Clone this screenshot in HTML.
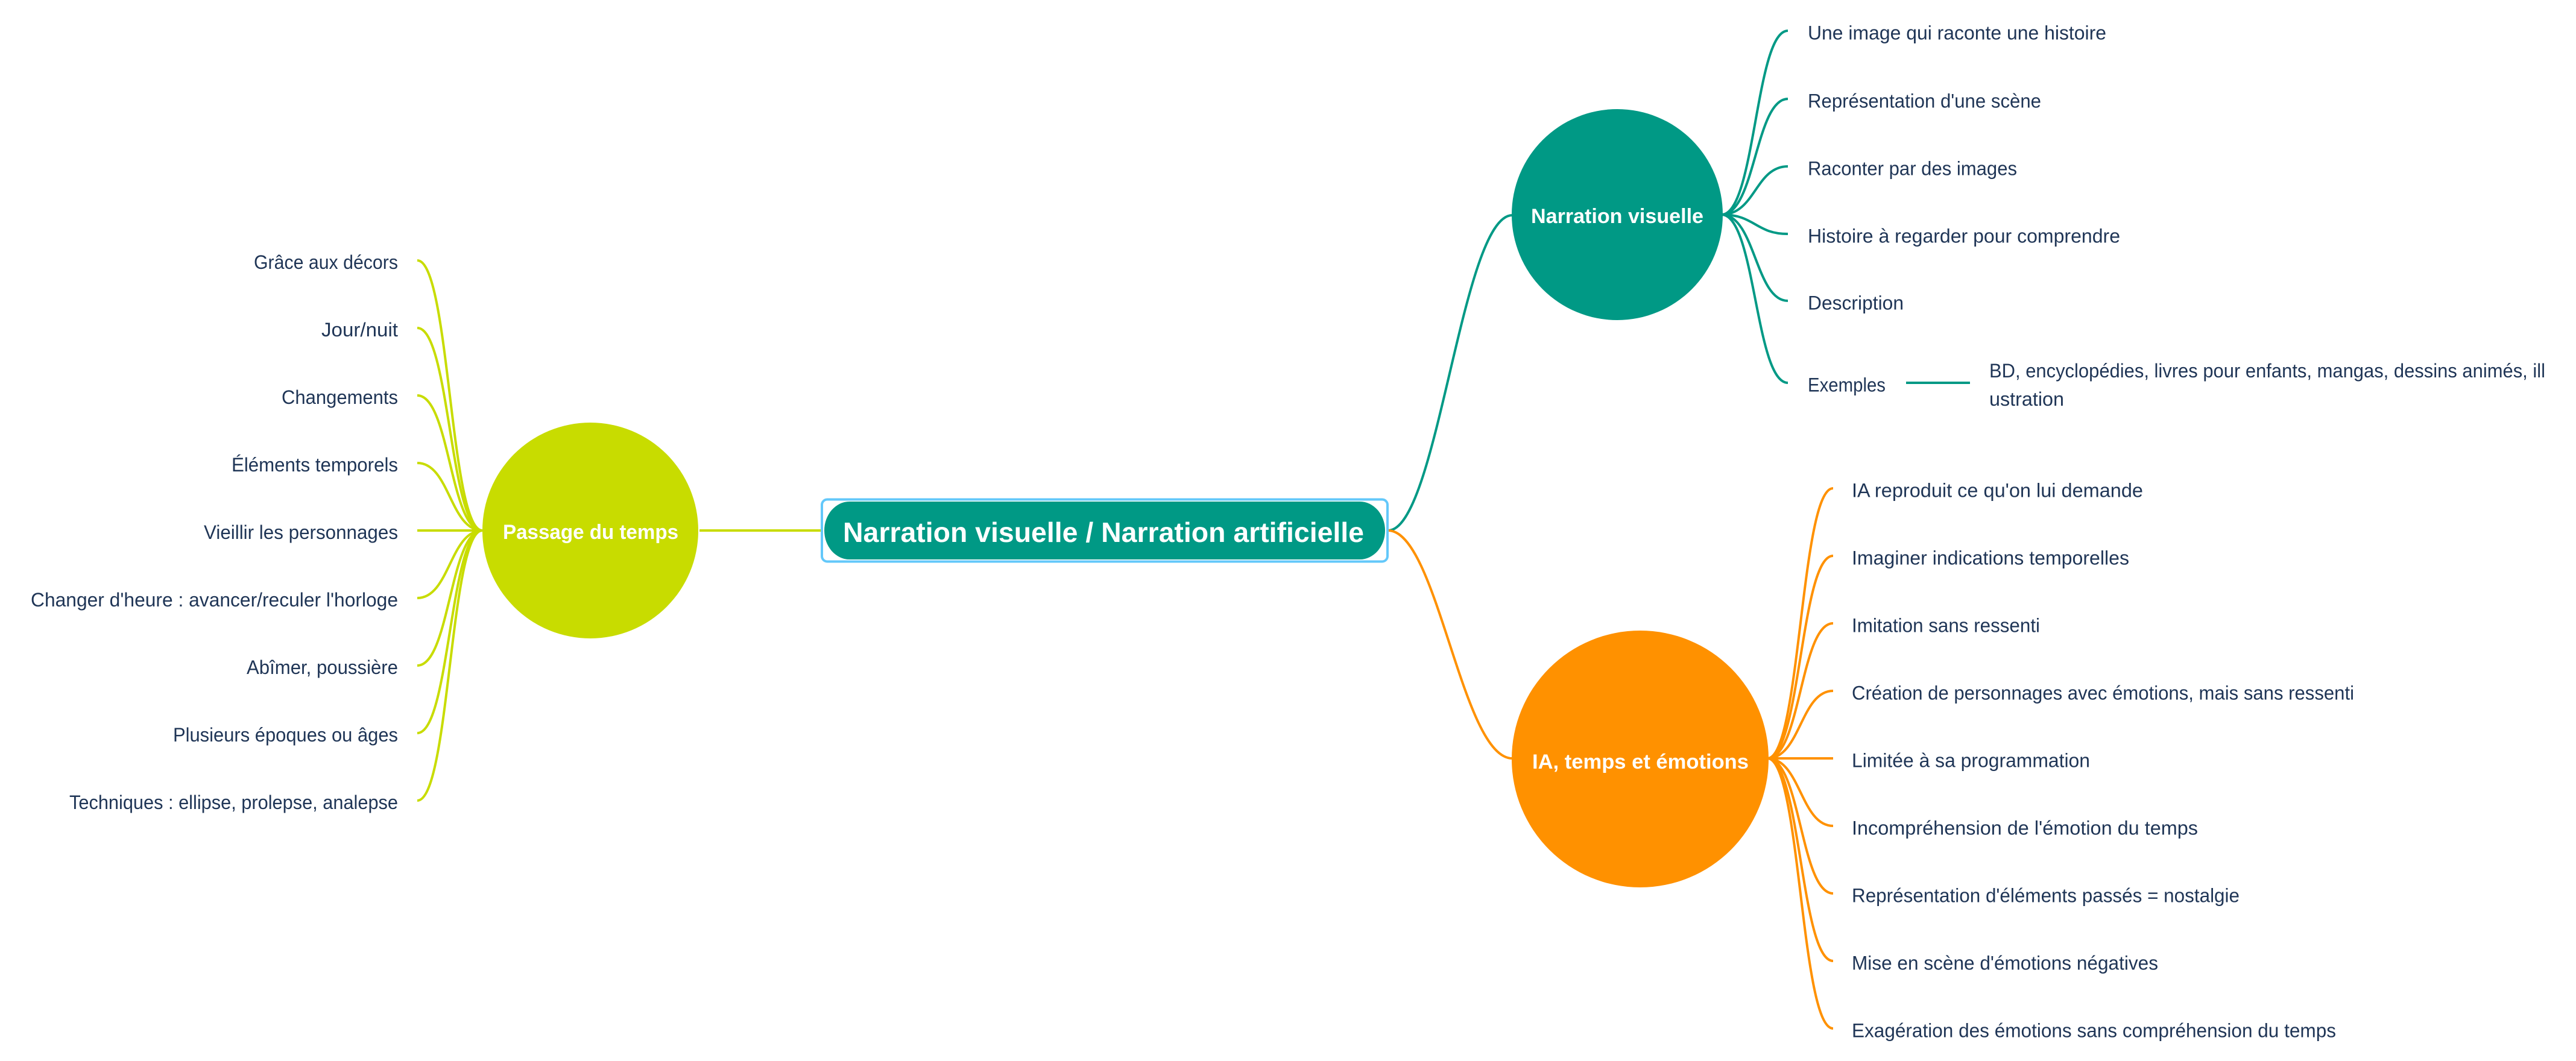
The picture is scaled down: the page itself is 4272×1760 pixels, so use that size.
<!DOCTYPE html>
<html>
<head>
<meta charset="utf-8">
<style>
  html, body { margin: 0; padding: 0; background: #ffffff; }
  body { width: 4272px; height: 1760px; overflow: hidden; }
  svg { display: block; }
  .lbl { font-family: "Liberation Sans", "DejaVu Sans", sans-serif; font-size: 32px; fill: #1f3556; }
  .ttl { font-family: "Liberation Sans", "DejaVu Sans", sans-serif; font-weight: bold; fill: #ffffff; }
</style>
</head>
<body>
<svg xmlns="http://www.w3.org/2000/svg" width="4272" height="1760" viewBox="0 0 4272 1760">
  <rect x="0" y="0" width="4272" height="1760" fill="#ffffff"/>

  <!-- ========== Left branch (lime) ========== -->
  <g fill="none" stroke="#c8dc00" stroke-width="4" stroke-linecap="butt">
    <line x1="1160" y1="880" x2="1363" y2="880"/>
    <path d="M 800 880 C 746 880, 746 432, 692 432"/>
    <path d="M 800 880 C 746 880, 746 544, 692 544"/>
    <path d="M 800 880 C 746 880, 746 656, 692 656"/>
    <path d="M 800 880 C 746 880, 746 768, 692 768"/>
    <line x1="692" y1="880" x2="800" y2="880"/>
    <path d="M 800 880 C 746 880, 746 992, 692 992"/>
    <path d="M 800 880 C 746 880, 746 1104, 692 1104"/>
    <path d="M 800 880 C 746 880, 746 1216, 692 1216"/>
    <path d="M 800 880 C 746 880, 746 1328, 692 1328"/>
  </g>

  <!-- ========== Main connectors to right ========== -->
  <path d="M 2302 880 C 2384 880, 2424 357, 2508 357" fill="none" stroke="#009985" stroke-width="4"/>
  <path d="M 2302 880 C 2384 880, 2424 1258, 2508 1258" fill="none" stroke="#ff9100" stroke-width="4"/>

  <!-- ========== Narration visuelle branches (teal) ========== -->
  <g fill="none" stroke="#009985" stroke-width="4">
    <path d="M 2855 356 C 2911 356, 2911 51, 2965 51"/>
    <path d="M 2855 356 C 2911 356, 2911 164, 2965 164"/>
    <path d="M 2855 356 C 2911 356, 2911 276, 2965 276"/>
    <path d="M 2855 356 C 2911 356, 2911 388, 2965 388"/>
    <path d="M 2855 356 C 2911 356, 2911 499, 2965 499"/>
    <path d="M 2855 356 C 2911 356, 2911 635, 2965 635"/>
    <line x1="3161" y1="635" x2="3267" y2="635"/>
  </g>

  <!-- ========== IA branches (orange) ========== -->
  <g fill="none" stroke="#ff9100" stroke-width="4">
    <path d="M 2931 1258 C 2986 1258, 2986 810, 3040 810"/>
    <path d="M 2931 1258 C 2986 1258, 2986 922, 3040 922"/>
    <path d="M 2931 1258 C 2986 1258, 2986 1034, 3040 1034"/>
    <path d="M 2931 1258 C 2986 1258, 2986 1146, 3040 1146"/>
    <line x1="2931" y1="1258" x2="3040" y2="1258"/>
    <path d="M 2931 1258 C 2986 1258, 2986 1370, 3040 1370"/>
    <path d="M 2931 1258 C 2986 1258, 2986 1482, 3040 1482"/>
    <path d="M 2931 1258 C 2986 1258, 2986 1594, 3040 1594"/>
    <path d="M 2931 1258 C 2986 1258, 2986 1706, 3040 1706"/>
  </g>

  <!-- ========== Nodes ========== -->
  <!-- Central topic -->
  <rect x="1363" y="828.5" width="938" height="103" rx="9" ry="9" fill="#ffffff" stroke="#63c8fa" stroke-width="4"/>
  <rect x="1367" y="832" width="930" height="96" rx="42" ry="48" fill="#009985"/>
  <text class="ttl" x="1398" y="899" font-size="46" textLength="864" lengthAdjust="spacingAndGlyphs">Narration visuelle / Narration artificielle</text>

  <!-- Passage du temps -->
  <circle cx="979" cy="880" r="179" fill="#c8dc00"/>
  <text class="ttl" x="834" y="894" font-size="34" textLength="291" lengthAdjust="spacingAndGlyphs">Passage du temps</text>

  <!-- Narration visuelle -->
  <circle cx="2682" cy="356" r="175" fill="#009985"/>
  <text class="ttl" x="2539" y="370" font-size="34" textLength="286" lengthAdjust="spacingAndGlyphs">Narration visuelle</text>

  <!-- IA, temps et émotions -->
  <circle cx="2720" cy="1259" r="213" fill="#ff9100"/>
  <text class="ttl" x="2541" y="1275" font-size="34" textLength="359" lengthAdjust="spacingAndGlyphs">IA, temps et émotions</text>

  <!-- ========== Left labels (right aligned at x=660) ========== -->
  <g class="lbl">
    <text x="421" y="446" textLength="239" lengthAdjust="spacingAndGlyphs">Grâce aux décors</text>
    <text x="533" y="558" textLength="127" lengthAdjust="spacingAndGlyphs">Jour/nuit</text>
    <text x="467" y="670" textLength="193" lengthAdjust="spacingAndGlyphs">Changements</text>
    <text x="384" y="782" textLength="276" lengthAdjust="spacingAndGlyphs">Éléments temporels</text>
    <text x="338" y="894" textLength="322" lengthAdjust="spacingAndGlyphs">Vieillir les personnages</text>
    <text x="51" y="1006" textLength="609" lengthAdjust="spacingAndGlyphs">Changer d'heure : avancer/reculer l'horloge</text>
    <text x="409" y="1118" textLength="251" lengthAdjust="spacingAndGlyphs">Abîmer, poussière</text>
    <text x="287" y="1230" textLength="373" lengthAdjust="spacingAndGlyphs">Plusieurs époques ou âges</text>
    <text x="115" y="1342" textLength="545" lengthAdjust="spacingAndGlyphs">Techniques : ellipse, prolepse, analepse</text>
  </g>

  <!-- ========== Narration visuelle labels ========== -->
  <g class="lbl">
    <text x="2998" y="65.5" textLength="495" lengthAdjust="spacingAndGlyphs">Une image qui raconte une histoire</text>
    <text x="2998" y="178.5" textLength="387" lengthAdjust="spacingAndGlyphs">Représentation d'une scène</text>
    <text x="2998" y="290.5" textLength="347" lengthAdjust="spacingAndGlyphs">Raconter par des images</text>
    <text x="2998" y="402.5" textLength="518" lengthAdjust="spacingAndGlyphs">Histoire à regarder pour comprendre</text>
    <text x="2998" y="513.5" textLength="159" lengthAdjust="spacingAndGlyphs">Description</text>
    <text x="2998" y="649.5" textLength="129" lengthAdjust="spacingAndGlyphs">Exemples</text>
    <text x="3299" y="626" textLength="922" lengthAdjust="spacingAndGlyphs">BD, encyclopédies, livres pour enfants, mangas, dessins animés, ill</text>
    <text x="3299" y="673" textLength="124" lengthAdjust="spacingAndGlyphs">ustration</text>
  </g>

  <!-- ========== IA labels ========== -->
  <g class="lbl">
    <text x="3071" y="824.5" textLength="483" lengthAdjust="spacingAndGlyphs">IA reproduit ce qu'on lui demande</text>
    <text x="3071" y="936.5" textLength="460" lengthAdjust="spacingAndGlyphs">Imaginer indications temporelles</text>
    <text x="3071" y="1048.5" textLength="312" lengthAdjust="spacingAndGlyphs">Imitation sans ressenti</text>
    <text x="3071" y="1160.5" textLength="833" lengthAdjust="spacingAndGlyphs">Création de personnages avec émotions, mais sans ressenti</text>
    <text x="3071" y="1272.5" textLength="395" lengthAdjust="spacingAndGlyphs">Limitée à sa programmation</text>
    <text x="3071" y="1384.5" textLength="574" lengthAdjust="spacingAndGlyphs">Incompréhension de l'émotion du temps</text>
    <text x="3071" y="1496.5" textLength="643" lengthAdjust="spacingAndGlyphs">Représentation d'éléments passés = nostalgie</text>
    <text x="3071" y="1608.5" textLength="508" lengthAdjust="spacingAndGlyphs">Mise en scène d'émotions négatives</text>
    <text x="3071" y="1720.5" textLength="803" lengthAdjust="spacingAndGlyphs">Exagération des émotions sans compréhension du temps</text>
  </g>
</svg>
</body>
</html>
